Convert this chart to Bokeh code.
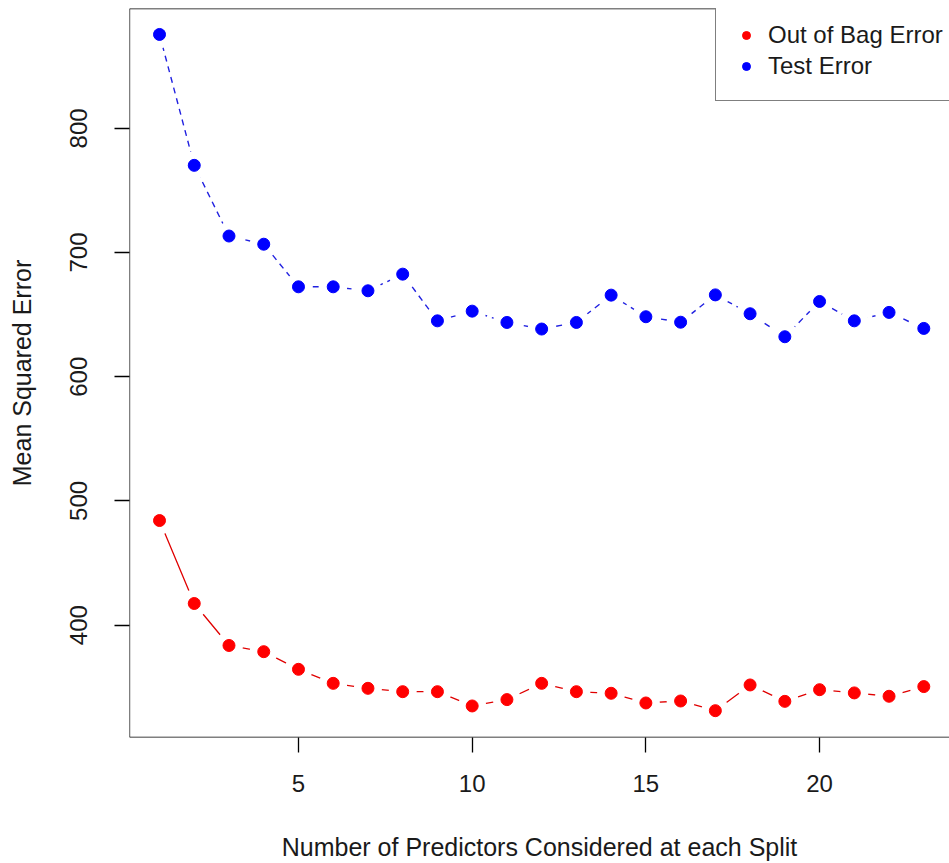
from bokeh.plotting import figure
from bokeh.models import FixedTicker, Range1d, Span, Legend, LegendItem
from bokeh.embed import file_html
from bokeh.resources import INLINE

# ---- data ----
n_predictors = [1, 2, 3, 4, 5, 6, 7, 8, 9, 10, 11, 12, 13, 14, 15, 16, 17, 18, 19, 20, 21, 22, 23]
oob_error = [484.2, 417.4, 383.6, 378.6, 364.4, 353.1, 349.1, 346.4, 346.4, 334.9, 340.0, 353.1,
             346.4, 345.1, 337.3, 338.9, 331.1, 351.8, 338.6, 348.0, 345.4, 342.7, 350.5]
test_error = [875.6, 770.2, 713.3, 706.7, 672.4, 672.4, 669.2, 682.6, 645.0, 652.8, 643.7, 638.4,
              643.7, 665.7, 648.3, 643.9, 665.9, 650.7, 632.2, 660.6, 645.0, 651.8, 638.9]
x_ticks = [5, 10, 15, 20]
y_ticks = [400, 500, 600, 700, 800]
series_labels = ["Out of Bag Error", "Test Error"]
x_title = "Number of Predictors Considered at each Split"
y_title = "Mean Squared Error"

FONT = "Liberation Sans"
x_lo, x_hi = 0.136, 23.74
y_lo, y_hi = 309.5, 896.5

p = figure(width=949, height=863,
           x_range=Range1d(x_lo, x_hi), y_range=Range1d(y_lo, y_hi),
           output_backend="svg", toolbar_location=None,
           min_border_left=129, min_border_right=0,
           min_border_top=8, min_border_bottom=125)
p.background_fill_color = "white"
p.border_fill_color = "white"
p.grid.visible = False
p.outline_line_color = None

# frame (left, bottom, top; right edge falls outside the picture)
for loc, dim in [(x_lo, "height"), (y_lo, "width"), (y_hi, "width")]:
    p.add_layout(Span(location=loc, dimension=dim, line_color="black", line_width=1.3))

# axes
for ax in (p.xaxis[0], p.yaxis[0]):
    ax.axis_line_color = None
    ax.major_tick_line_color = "black"
    ax.major_tick_line_width = 1.3
    ax.major_tick_in = 0
    ax.major_tick_out = 15
    ax.minor_tick_line_color = None
    ax.major_label_text_font = FONT
    ax.major_label_text_font_size = "24px"
    ax.major_label_text_color = "#1a1a1a"
    ax.axis_label_text_font = FONT
    ax.axis_label_text_font_size = "25px"
    ax.axis_label_text_font_style = "normal"
    ax.axis_label_text_color = "#1a1a1a"

p.xaxis[0].ticker = FixedTicker(ticks=x_ticks)
p.yaxis[0].ticker = FixedTicker(ticks=y_ticks)
p.yaxis[0].major_label_orientation = "vertical"
p.xaxis[0].axis_label = x_title
p.yaxis[0].axis_label = y_title
p.xaxis[0].major_label_standoff = 22
p.yaxis[0].major_label_standoff = 27
p.xaxis[0].axis_label_standoff = 38
p.yaxis[0].axis_label_standoff = 32

# lines
p.line(n_predictors, oob_error, line_color="#e00000", line_width=1.3)
p.line(n_predictors, test_error, line_color="#2020e0", line_width=1.4, line_dash="6 5")

# white halos around points (R type="b" gaps)
p.scatter(n_predictors, oob_error, size=28, fill_color="white", line_color=None)
p.scatter(n_predictors, test_error, size=28, fill_color="white", line_color=None)

# points
r_oob = p.scatter(n_predictors, oob_error, size=12, fill_color="#ff0000", line_color="#ff0000")
r_test = p.scatter(n_predictors, test_error, size=12, fill_color="#0000ff", line_color="#0000ff")

legend = Legend(items=[LegendItem(label=series_labels[0], renderers=[r_oob]),
                       LegendItem(label=series_labels[1], renderers=[r_test])],
                location=(586, 636))
legend.label_text_font = FONT
legend.label_text_font_size = "24px"
legend.label_text_color = "#1a1a1a"
legend.glyph_width = 20
legend.glyph_height = 24
legend.label_standoff = 12
legend.padding = 20
legend.spacing = 3
legend.margin = 0
legend.border_line_color = "black"
legend.border_line_width = 1.3
legend.background_fill_color = "white"
legend.background_fill_alpha = 1.0
p.add_layout(legend, "center")

open("out.html", "w").write(file_html(p, INLINE))
